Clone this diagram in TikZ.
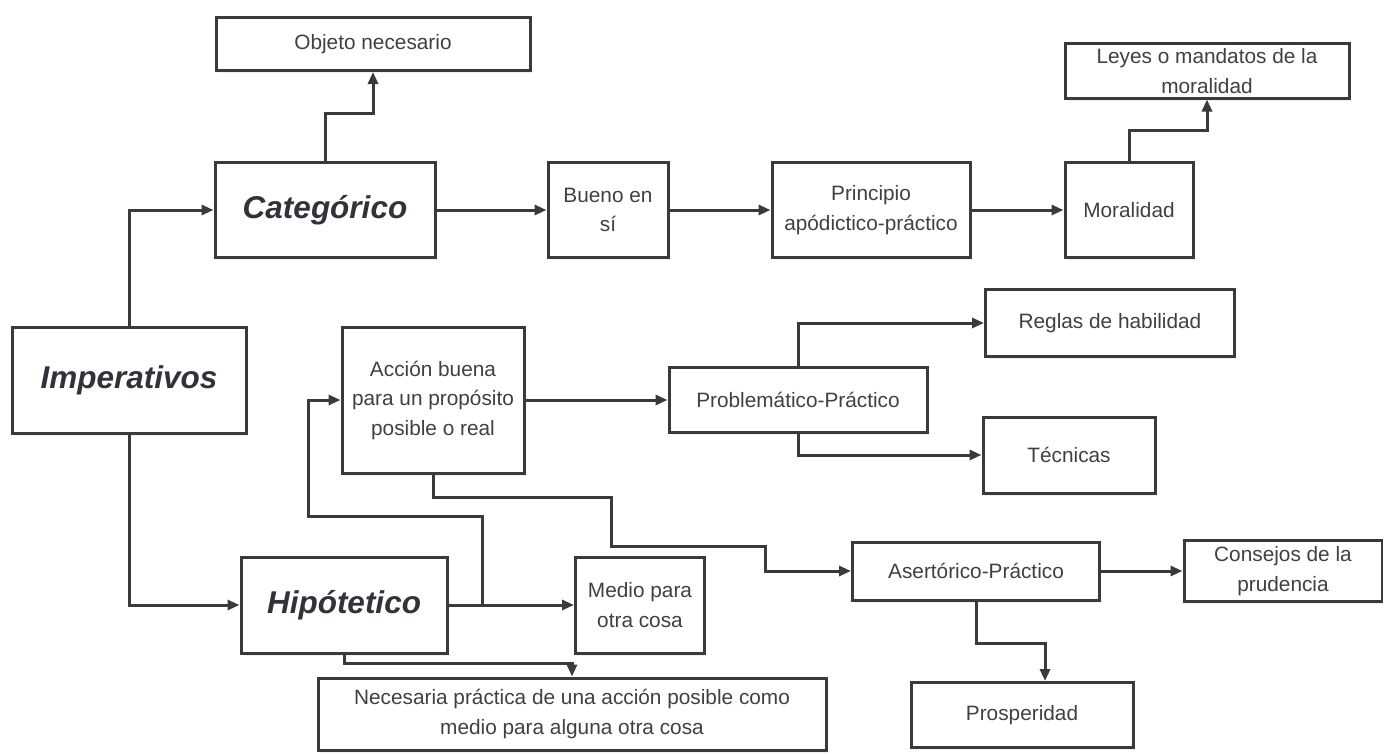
\documentclass[tikz,border=0pt]{standalone}
\usepackage{fontspec}
\setmainfont{Liberation Sans}
\usetikzlibrary{arrows.meta,shadows}
\definecolor{ln}{HTML}{3A3A3A}
\definecolor{tx}{HTML}{404040}
\definecolor{bt}{HTML}{30343A}
\begin{document}
\begin{tikzpicture}[x=1pt,y=-1pt,
  box/.style={draw=ln,line width=3pt,fill=white,text=tx,align=center,
    font=\fontsize{20.8}{29.5}\selectfont,inner sep=0pt,
    drop shadow={shadow xshift=1.5pt,shadow yshift=-2.5pt,opacity=0.12}},
  big/.style={box,text=bt,font=\fontsize{31.5}{36}\selectfont\bfseries\itshape},
  conn/.style={draw=ln,line width=3pt,-{Triangle[length=12pt,width=10pt]}}]
\useasboundingbox (0,0) rectangle (1383,752);

\node[box,minimum width=314pt,minimum height=53pt] (obj) at (373,44) {Objeto necesario};
\node[big,minimum width=220pt,minimum height=95pt] (cat) at (325,210) {Categórico};
\node[box,minimum width=120pt,minimum height=95pt] (bue) at (608,210) {Bueno en\\sí};
\node[box,minimum width=198pt,minimum height=95pt] (pri) at (871,210) {Principio\\apódictico-práctico};
\node[box,minimum width=128pt,minimum height=95pt] (mor) at (1129,210) {Moralidad};
\node[box,minimum width=284pt,minimum height=54pt] (ley) at (1207,71) {Leyes o mandatos de la\\moralidad};
\node[big,minimum width=234pt,minimum height=106pt] (imp) at (129,380) {Imperativos};
\node[box,minimum width=182pt,minimum height=146pt] (acc) at (433,400) {Acción buena\\para un propósito\\posible o real};
\node[box,minimum width=258pt,minimum height=65pt] (pro) at (798,400) {Problemático-Práctico};
\node[box,minimum width=249pt,minimum height=67pt] (reg) at (1110,323) {Reglas de habilidad};
\node[box,minimum width=172pt,minimum height=76pt] (tec) at (1069,455) {Técnicas};
\node[box,minimum width=247pt,minimum height=58pt] (ase) at (976,571) {Asertórico-Práctico};
\node[box,minimum width=198pt,minimum height=61pt] (con) at (1283,571) {Consejos de la\\prudencia};
\node[box,minimum width=222pt,minimum height=65pt] (prs) at (1022,715) {Prosperidad};
\node[big,minimum width=206pt,minimum height=96pt] (hip) at (344,605) {Hipótetico};
\node[box,minimum width=129pt,minimum height=96pt] (med) at (640,605) {Medio para\\otra cosa};
\node[box,minimum width=508pt,minimum height=72pt] (nec) at (572,714) {Necesaria práctica de una acción posible como\\medio para alguna otra cosa};

\draw[conn] (imp.north) |- (cat.west);
\draw[conn] (imp.south) |- (hip.west);
\draw[conn] (cat.north) -- ++(0,-48) -| (obj.south);
\draw[conn] (cat) -- (bue);
\draw[conn] (bue) -- (pri);
\draw[conn] (pri) -- (mor);
\draw[conn] (mor.north) -- ++(0,-31) -| (ley.south);
\draw[conn] (hip.east) -- (med.west);
\coordinate (j) at (482,605);
\draw[conn] (j) |- (308,516) |- (acc.west);
\draw[conn] (hip.south) |- ([yshift=13pt]nec.north) -- (nec.north);
\draw[conn] (acc.east) -- (pro.west);
\draw[conn] (pro.north) |- (reg.west);
\draw[conn] (pro.south) |- (tec.west);
\draw[conn] (acc.south) -- (433,497) -- (611,497) -- (611,546) -- (765,546) -- (765,571) -- (ase.west);
\draw[conn] (ase.east) -- (con.west);
\draw[conn] (ase.south) -- ++(0,42) -| ([xshift=23pt]prs.north);
\end{tikzpicture}
\end{document}
